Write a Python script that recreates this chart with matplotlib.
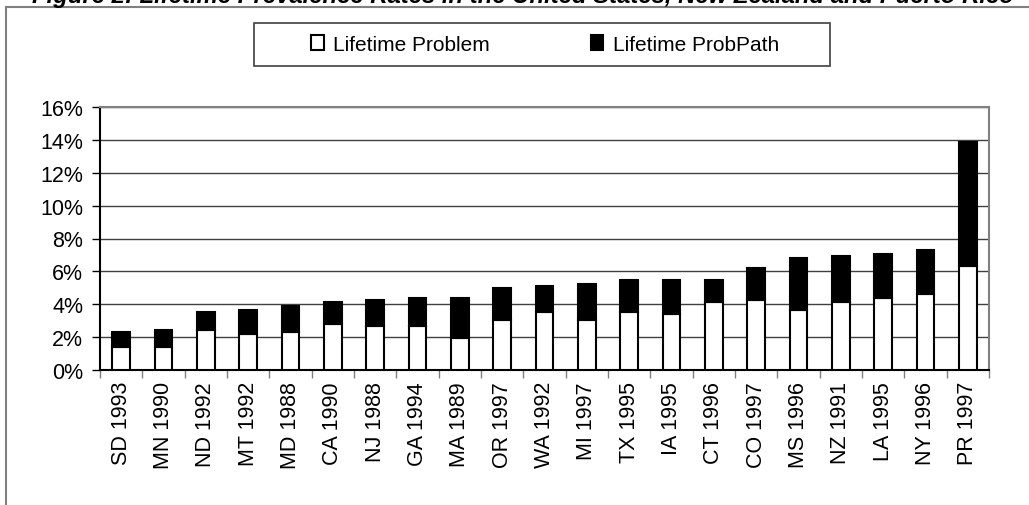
import matplotlib
matplotlib.use("Agg")
import matplotlib.pyplot as plt
from matplotlib.patches import Rectangle, Patch
from matplotlib.lines import Line2D
import numpy as np

plt.rcParams['font.family'] = ['Liberation Sans', 'DejaVu Sans']

# data (percent)
sites = ["SD 1993", "MN 1990", "ND 1992", "MT 1992", "MD 1988", "CA 1990",
         "NJ 1988", "GA 1994", "MA 1989", "OR 1997", "WA 1992", "MI 1997",
         "TX 1995", "IA 1995", "CT 1996", "CO 1997", "MS 1996", "NZ 1991",
         "LA 1995", "NY 1996", "PR 1997"]
lifetime_problem = [1.37, 1.37, 2.44, 2.20, 2.32, 2.80, 2.68, 2.68, 1.95, 3.05,
                    3.54, 3.05, 3.54, 3.41, 4.15, 4.27, 3.66, 4.15, 4.39, 4.63, 6.34]
lifetime_total = [2.32, 2.44, 3.54, 3.66, 3.90, 4.15, 4.27, 4.39, 4.39, 5.00,
                  5.12, 5.24, 5.49, 5.49, 5.49, 6.22, 6.83, 6.95, 7.07, 7.32, 13.9]
lifetime_probpath = [t - p for t, p in zip(lifetime_total, lifetime_problem)]
yticks = [0, 2, 4, 6, 8, 10, 12, 14, 16]

W, H = 1029, 506
fig = plt.figure(figsize=(W / 100, H / 100), dpi=100)
ax = fig.add_axes([100 / W, 1 - 371 / H, (989 - 100) / W, (371 - 108) / H])

x = np.arange(len(sites))
ax.bar(x, lifetime_problem, width=0.41, color="white", edgecolor="black",
       linewidth=1.5, zorder=3)
ax.bar(x, lifetime_probpath, bottom=lifetime_problem, width=0.41, color="black",
       edgecolor="black", linewidth=1.5, zorder=3)

ax.set_xlim(-0.5, len(sites) - 0.5)
ax.set_ylim(0, 16)
ax.set_yticks(yticks)
ax.set_yticklabels([f"{v}%" for v in yticks], fontsize=15.5)
ax.yaxis.grid(True, color="#404040", linewidth=1)
ax.set_axisbelow(True)

ax.set_xticks(x)
ax.set_xticklabels(sites, rotation=90, fontsize=15.5)
ax.set_xticks(np.arange(-0.5, len(sites)), minor=True)
ax.tick_params(axis="x", which="major", length=0, pad=8)
ax.tick_params(axis="x", which="minor", length=6, color="#808080", width=1)
ax.tick_params(axis="y", length=6, width=1, pad=6)

for side in ["top", "right"]:
    ax.spines[side].set_color("#808080")
    ax.spines[side].set_linewidth(1.5)
for side in ["left", "bottom"]:
    ax.spines[side].set_color("black")
    ax.spines[side].set_linewidth(1.5)

# outer frame (only top and left edges are visible)
fig.add_artist(Line2D([6 / W, 1], [1 - 8 / H, 1 - 8 / H], color="#808080",
                      linewidth=1.5, transform=fig.transFigure))
fig.add_artist(Line2D([6 / W, 6 / W], [0, 1 - 8 / H], color="#808080",
                      linewidth=1.5, transform=fig.transFigure))

# legend box
fig.add_artist(Rectangle((254 / W, 1 - 67 / H), (830 - 254) / W, (67 - 24) / H,
                         facecolor="white", edgecolor="#404040", linewidth=1.2,
                         transform=fig.transFigure))
handles = [Patch(facecolor="white", edgecolor="black", linewidth=1.5),
           Patch(facecolor="black", edgecolor="black", linewidth=1.5)]
fig.legend(handles, ["Lifetime Problem", "Lifetime ProbPath"], ncol=2,
           loc="center", bbox_to_anchor=(545 / W, 1 - 45.5 / H), frameon=False,
           fontsize=15, handlelength=0.6, handleheight=0.7, handletextpad=0.45,
           columnspacing=4.85)

fig.text(32 / W, 1 - 3 / H,
         "Figure 2: Lifetime Prevalence Rates in the United States, New Zealand and Puerto Rico",
         fontsize=17.2, fontweight="bold", fontstyle="italic", ha="left", va="baseline")

fig.savefig("out.png", dpi=100)
